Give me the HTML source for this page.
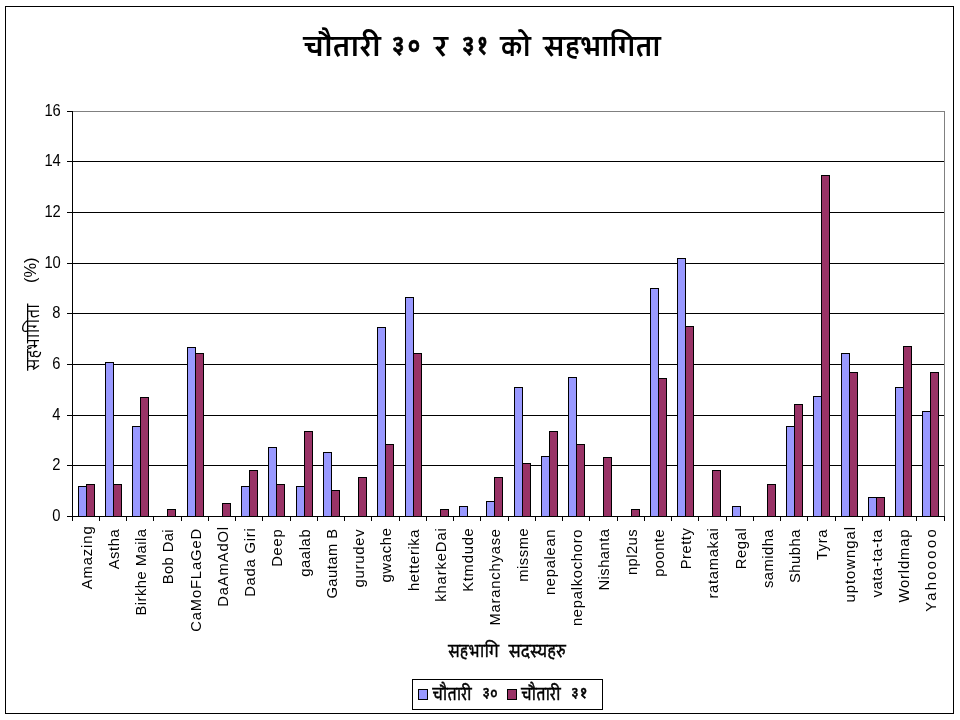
<!DOCTYPE html>
<html lang="ne"><head><meta charset="utf-8"><title>चौतारी ३० र ३१ को सहभागिता</title>
<style>html,body{margin:0;padding:0;background:#fff;overflow:hidden}svg{display:block}text{fill:#000}.l{font-family:"Liberation Sans",Arial,sans-serif;font-size:16px}.x{font-size:14.8px}.d{font-family:"Liberation Sans","Cambay","Noto Sans Devanagari","Lohit Devanagari","FreeSans",sans-serif}</style></head><body>
<svg width="960" height="720" viewBox="0 0 960 720">
<rect x="0" y="0" width="960" height="720" fill="#fff"/>
<rect x="5.5" y="6.5" width="948" height="707" fill="none" stroke="#000" stroke-width="1" shape-rendering="crispEdges"/>
<g shape-rendering="crispEdges" stroke-width="1">
<path d="M72.5 111.5 H944.5 V516.5" fill="none" stroke="#808080"/>
<line x1="72" y1="465.5" x2="944" y2="465.5" stroke="#000"/>
<line x1="72" y1="415.5" x2="944" y2="415.5" stroke="#000"/>
<line x1="72" y1="364.5" x2="944" y2="364.5" stroke="#000"/>
<line x1="72" y1="313.5" x2="944" y2="313.5" stroke="#000"/>
<line x1="72" y1="263.5" x2="944" y2="263.5" stroke="#000"/>
<line x1="72" y1="212.5" x2="944" y2="212.5" stroke="#000"/>
<line x1="72" y1="161.5" x2="944" y2="161.5" stroke="#000"/>
<rect x="78.5" y="486.5" width="8" height="30" fill="#9999ff" stroke="#000"/>
<rect x="86.5" y="484.5" width="8" height="32" fill="#993366" stroke="#000"/>
<rect x="105.5" y="362.5" width="8" height="154" fill="#9999ff" stroke="#000"/>
<rect x="113.5" y="484.5" width="8" height="32" fill="#993366" stroke="#000"/>
<rect x="132.5" y="426.5" width="8" height="90" fill="#9999ff" stroke="#000"/>
<rect x="140.5" y="397.5" width="8" height="119" fill="#993366" stroke="#000"/>
<rect x="167.5" y="509.5" width="8" height="7" fill="#993366" stroke="#000"/>
<rect x="187.5" y="347.5" width="8" height="169" fill="#9999ff" stroke="#000"/>
<rect x="195.5" y="353.5" width="8" height="163" fill="#993366" stroke="#000"/>
<rect x="222.5" y="503.5" width="8" height="13" fill="#993366" stroke="#000"/>
<rect x="241.5" y="486.5" width="8" height="30" fill="#9999ff" stroke="#000"/>
<rect x="249.5" y="470.5" width="8" height="46" fill="#993366" stroke="#000"/>
<rect x="268.5" y="447.5" width="8" height="69" fill="#9999ff" stroke="#000"/>
<rect x="276.5" y="484.5" width="8" height="32" fill="#993366" stroke="#000"/>
<rect x="296.5" y="486.5" width="8" height="30" fill="#9999ff" stroke="#000"/>
<rect x="304.5" y="431.5" width="8" height="85" fill="#993366" stroke="#000"/>
<rect x="323.5" y="452.5" width="8" height="64" fill="#9999ff" stroke="#000"/>
<rect x="331.5" y="490.5" width="8" height="26" fill="#993366" stroke="#000"/>
<rect x="358.5" y="477.5" width="8" height="39" fill="#993366" stroke="#000"/>
<rect x="377.5" y="327.5" width="8" height="189" fill="#9999ff" stroke="#000"/>
<rect x="385.5" y="444.5" width="8" height="72" fill="#993366" stroke="#000"/>
<rect x="405.5" y="297.5" width="8" height="219" fill="#9999ff" stroke="#000"/>
<rect x="413.5" y="353.5" width="8" height="163" fill="#993366" stroke="#000"/>
<rect x="440.5" y="509.5" width="8" height="7" fill="#993366" stroke="#000"/>
<rect x="459.5" y="506.5" width="8" height="10" fill="#9999ff" stroke="#000"/>
<rect x="486.5" y="501.5" width="8" height="15" fill="#9999ff" stroke="#000"/>
<rect x="494.5" y="477.5" width="8" height="39" fill="#993366" stroke="#000"/>
<rect x="514.5" y="387.5" width="8" height="129" fill="#9999ff" stroke="#000"/>
<rect x="522.5" y="463.5" width="8" height="53" fill="#993366" stroke="#000"/>
<rect x="541.5" y="456.5" width="8" height="60" fill="#9999ff" stroke="#000"/>
<rect x="549.5" y="431.5" width="8" height="85" fill="#993366" stroke="#000"/>
<rect x="568.5" y="377.5" width="8" height="139" fill="#9999ff" stroke="#000"/>
<rect x="576.5" y="444.5" width="8" height="72" fill="#993366" stroke="#000"/>
<rect x="603.5" y="457.5" width="8" height="59" fill="#993366" stroke="#000"/>
<rect x="631.5" y="509.5" width="8" height="7" fill="#993366" stroke="#000"/>
<rect x="650.5" y="288.5" width="8" height="228" fill="#9999ff" stroke="#000"/>
<rect x="658.5" y="378.5" width="8" height="138" fill="#993366" stroke="#000"/>
<rect x="677.5" y="258.5" width="8" height="258" fill="#9999ff" stroke="#000"/>
<rect x="685.5" y="326.5" width="8" height="190" fill="#993366" stroke="#000"/>
<rect x="712.5" y="470.5" width="8" height="46" fill="#993366" stroke="#000"/>
<rect x="732.5" y="506.5" width="8" height="10" fill="#9999ff" stroke="#000"/>
<rect x="767.5" y="484.5" width="8" height="32" fill="#993366" stroke="#000"/>
<rect x="786.5" y="426.5" width="8" height="90" fill="#9999ff" stroke="#000"/>
<rect x="794.5" y="404.5" width="8" height="112" fill="#993366" stroke="#000"/>
<rect x="813.5" y="396.5" width="8" height="120" fill="#9999ff" stroke="#000"/>
<rect x="821.5" y="175.5" width="8" height="341" fill="#993366" stroke="#000"/>
<rect x="841.5" y="353.5" width="8" height="163" fill="#9999ff" stroke="#000"/>
<rect x="849.5" y="372.5" width="8" height="144" fill="#993366" stroke="#000"/>
<rect x="868.5" y="497.5" width="8" height="19" fill="#9999ff" stroke="#000"/>
<rect x="876.5" y="497.5" width="8" height="19" fill="#993366" stroke="#000"/>
<rect x="895.5" y="387.5" width="8" height="129" fill="#9999ff" stroke="#000"/>
<rect x="903.5" y="346.5" width="8" height="170" fill="#993366" stroke="#000"/>
<rect x="922.5" y="411.5" width="8" height="105" fill="#9999ff" stroke="#000"/>
<rect x="930.5" y="372.5" width="8" height="144" fill="#993366" stroke="#000"/>
<line x1="72.5" y1="111" x2="72.5" y2="521" stroke="#000"/>
<line x1="67" y1="516.5" x2="945" y2="516.5" stroke="#000"/>
<line x1="67" y1="516.5" x2="72" y2="516.5" stroke="#000"/>
<line x1="67" y1="465.5" x2="72" y2="465.5" stroke="#000"/>
<line x1="67" y1="415.5" x2="72" y2="415.5" stroke="#000"/>
<line x1="67" y1="364.5" x2="72" y2="364.5" stroke="#000"/>
<line x1="67" y1="313.5" x2="72" y2="313.5" stroke="#000"/>
<line x1="67" y1="263.5" x2="72" y2="263.5" stroke="#000"/>
<line x1="67" y1="212.5" x2="72" y2="212.5" stroke="#000"/>
<line x1="67" y1="161.5" x2="72" y2="161.5" stroke="#000"/>
<line x1="67" y1="111.5" x2="72" y2="111.5" stroke="#000"/>
<line x1="72.5" y1="516" x2="72.5" y2="521" stroke="#000"/>
<line x1="99.5" y1="516" x2="99.5" y2="521" stroke="#000"/>
<line x1="126.5" y1="516" x2="126.5" y2="521" stroke="#000"/>
<line x1="153.5" y1="516" x2="153.5" y2="521" stroke="#000"/>
<line x1="181.5" y1="516" x2="181.5" y2="521" stroke="#000"/>
<line x1="208.5" y1="516" x2="208.5" y2="521" stroke="#000"/>
<line x1="235.5" y1="516" x2="235.5" y2="521" stroke="#000"/>
<line x1="262.5" y1="516" x2="262.5" y2="521" stroke="#000"/>
<line x1="290.5" y1="516" x2="290.5" y2="521" stroke="#000"/>
<line x1="317.5" y1="516" x2="317.5" y2="521" stroke="#000"/>
<line x1="344.5" y1="516" x2="344.5" y2="521" stroke="#000"/>
<line x1="371.5" y1="516" x2="371.5" y2="521" stroke="#000"/>
<line x1="399.5" y1="516" x2="399.5" y2="521" stroke="#000"/>
<line x1="426.5" y1="516" x2="426.5" y2="521" stroke="#000"/>
<line x1="453.5" y1="516" x2="453.5" y2="521" stroke="#000"/>
<line x1="480.5" y1="516" x2="480.5" y2="521" stroke="#000"/>
<line x1="508.5" y1="516" x2="508.5" y2="521" stroke="#000"/>
<line x1="535.5" y1="516" x2="535.5" y2="521" stroke="#000"/>
<line x1="562.5" y1="516" x2="562.5" y2="521" stroke="#000"/>
<line x1="589.5" y1="516" x2="589.5" y2="521" stroke="#000"/>
<line x1="617.5" y1="516" x2="617.5" y2="521" stroke="#000"/>
<line x1="644.5" y1="516" x2="644.5" y2="521" stroke="#000"/>
<line x1="671.5" y1="516" x2="671.5" y2="521" stroke="#000"/>
<line x1="698.5" y1="516" x2="698.5" y2="521" stroke="#000"/>
<line x1="726.5" y1="516" x2="726.5" y2="521" stroke="#000"/>
<line x1="753.5" y1="516" x2="753.5" y2="521" stroke="#000"/>
<line x1="780.5" y1="516" x2="780.5" y2="521" stroke="#000"/>
<line x1="807.5" y1="516" x2="807.5" y2="521" stroke="#000"/>
<line x1="835.5" y1="516" x2="835.5" y2="521" stroke="#000"/>
<line x1="862.5" y1="516" x2="862.5" y2="521" stroke="#000"/>
<line x1="889.5" y1="516" x2="889.5" y2="521" stroke="#000"/>
<line x1="916.5" y1="516" x2="916.5" y2="521" stroke="#000"/>
<line x1="944.5" y1="516" x2="944.5" y2="521" stroke="#000"/>
</g>
<text class="l" x="52.2" y="520.8" textLength="8.2" lengthAdjust="spacingAndGlyphs">0</text>
<text class="l" x="52.2" y="469.8" textLength="8.2" lengthAdjust="spacingAndGlyphs">2</text>
<text class="l" x="52.2" y="419.8" textLength="8.2" lengthAdjust="spacingAndGlyphs">4</text>
<text class="l" x="52.2" y="368.8" textLength="8.2" lengthAdjust="spacingAndGlyphs">6</text>
<text class="l" x="52.2" y="317.8" textLength="8.2" lengthAdjust="spacingAndGlyphs">8</text>
<text class="l" x="44.4" y="267.8" textLength="16.4" lengthAdjust="spacingAndGlyphs">10</text>
<text class="l" x="44.4" y="216.8" textLength="16.4" lengthAdjust="spacingAndGlyphs">12</text>
<text class="l" x="44.4" y="165.8" textLength="16.4" lengthAdjust="spacingAndGlyphs">14</text>
<text class="l" x="44.4" y="115.8" textLength="16.4" lengthAdjust="spacingAndGlyphs">16</text>
<text class="l x" transform="translate(91.72 589.35) rotate(-90)" textLength="63.0" lengthAdjust="spacing">Amazing</text>
<text class="l x" transform="translate(118.97 569.35) rotate(-90)" textLength="40.0" lengthAdjust="spacing">Astha</text>
<text class="l x" transform="translate(146.22 615.60) rotate(-90)" textLength="86.7" lengthAdjust="spacing">Birkhe Maila</text>
<text class="l x" transform="translate(173.47 584.35) rotate(-90)" textLength="55.0" lengthAdjust="spacing">Bob Dai</text>
<text class="l x" transform="translate(200.72 631.85) rotate(-90)" textLength="103.0" lengthAdjust="spacing">CaMoFLaGeD</text>
<text class="l x" transform="translate(227.97 606.85) rotate(-90)" textLength="80.0" lengthAdjust="spacing">DaAmAdOl</text>
<text class="l x" transform="translate(255.22 596.85) rotate(-90)" textLength="68.7" lengthAdjust="spacing">Dada Giri</text>
<text class="l x" transform="translate(282.48 566.85) rotate(-90)" textLength="37.5" lengthAdjust="spacing">Deep</text>
<text class="l x" transform="translate(309.73 576.85) rotate(-90)" textLength="47.5" lengthAdjust="spacing">gaalab</text>
<text class="l x" transform="translate(336.98 598.60) rotate(-90)" textLength="69.7" lengthAdjust="spacing">Gautam B</text>
<text class="l x" transform="translate(364.23 587.60) rotate(-90)" textLength="58.2" lengthAdjust="spacing">gurudev</text>
<text class="l x" transform="translate(391.48 582.60) rotate(-90)" textLength="54.5" lengthAdjust="spacing">gwache</text>
<text class="l x" transform="translate(418.73 591.10) rotate(-90)" textLength="61.7" lengthAdjust="spacing">hetterika</text>
<text class="l x" transform="translate(445.98 601.85) rotate(-90)" textLength="73.7" lengthAdjust="spacing">kharkeDai</text>
<text class="l x" transform="translate(473.23 591.85) rotate(-90)" textLength="63.7" lengthAdjust="spacing">Ktmdude</text>
<text class="l x" transform="translate(500.48 625.60) rotate(-90)" textLength="96.7" lengthAdjust="spacing">Maranchyase</text>
<text class="l x" transform="translate(527.73 581.85) rotate(-90)" textLength="53.7" lengthAdjust="spacing">missme</text>
<text class="l x" transform="translate(554.98 595.10) rotate(-90)" textLength="65.7" lengthAdjust="spacing">nepalean</text>
<text class="l x" transform="translate(582.23 626.10) rotate(-90)" textLength="96.7" lengthAdjust="spacing">nepalkochoro</text>
<text class="l x" transform="translate(609.48 590.60) rotate(-90)" textLength="61.7" lengthAdjust="spacing">Nishanta</text>
<text class="l x" transform="translate(636.73 575.10) rotate(-90)" textLength="45.7" lengthAdjust="spacing">npl2us</text>
<text class="l x" transform="translate(663.98 576.85) rotate(-90)" textLength="47.5" lengthAdjust="spacing">poonte</text>
<text class="l x" transform="translate(691.23 569.35) rotate(-90)" textLength="41.2" lengthAdjust="spacing">Pretty</text>
<text class="l x" transform="translate(718.48 598.60) rotate(-90)" textLength="70.5" lengthAdjust="spacing">ratamakai</text>
<text class="l x" transform="translate(745.73 569.35) rotate(-90)" textLength="41.2" lengthAdjust="spacing">Regal</text>
<text class="l x" transform="translate(772.98 588.10) rotate(-90)" textLength="58.7" lengthAdjust="spacing">samidha</text>
<text class="l x" transform="translate(800.23 583.10) rotate(-90)" textLength="53.7" lengthAdjust="spacing">Shubha</text>
<text class="l x" transform="translate(827.48 560.10) rotate(-90)" textLength="30.7" lengthAdjust="spacing">Tyra</text>
<text class="l x" transform="translate(854.73 602.60) rotate(-90)" textLength="75.7" lengthAdjust="spacing">uptowngal</text>
<text class="l x" transform="translate(881.98 597.60) rotate(-90)" textLength="68.2" lengthAdjust="spacing">vata-ta-ta</text>
<text class="l x" transform="translate(909.23 602.60) rotate(-90)" textLength="73.2" lengthAdjust="spacing">Worldmap</text>
<text class="l x" transform="translate(936.48 611.85) rotate(-90)" textLength="82.5" lengthAdjust="spacing">Yahooooo</text>
<text class="d"><tspan x="303.8" y="56" font-size="33" font-weight="bold" textLength="76.8" lengthAdjust="spacingAndGlyphs">चौतारी</tspan> <tspan x="392.4" y="54.2" font-size="28.5" font-weight="bold" textLength="11.4" lengthAdjust="spacingAndGlyphs" stroke="#000" stroke-width="0.7">३</tspan><tspan x="408.3" y="54.2" font-size="28.5" font-weight="bold" textLength="11.4" lengthAdjust="spacingAndGlyphs" stroke="#000" stroke-width="0.7">०</tspan> <tspan x="434.2" y="56" font-size="33" font-weight="bold" textLength="13.4" lengthAdjust="spacingAndGlyphs">र</tspan> <tspan x="462.4" y="54.2" font-size="28.5" font-weight="bold" textLength="11.4" lengthAdjust="spacingAndGlyphs" stroke="#000" stroke-width="0.7">३</tspan><tspan x="477.8" y="54.2" font-size="28.5" font-weight="bold" textLength="9" lengthAdjust="spacingAndGlyphs" stroke="#000" stroke-width="0.7">१</tspan> <tspan x="500.5" y="56" font-size="33" font-weight="bold" textLength="30.1" lengthAdjust="spacingAndGlyphs">को</tspan> <tspan x="543.4" y="56" font-size="33" font-weight="bold" textLength="117.2" lengthAdjust="spacingAndGlyphs">सहभागिता</tspan></text>
<text class="d"><tspan x="448.5" y="657" font-size="20" font-weight="normal" textLength="50.3" lengthAdjust="spacingAndGlyphs" stroke="#000" stroke-width="0.5">सहभागि</tspan> <tspan x="509" y="657" font-size="20" font-weight="normal" textLength="56.5" lengthAdjust="spacingAndGlyphs" stroke="#000" stroke-width="0.5">सदस्यहरु</tspan></text>
<text class="d" transform="translate(38.6 0) rotate(-90)"><tspan x="-370.2" y="0" font-size="20" font-weight="normal" textLength="66.2" lengthAdjust="spacingAndGlyphs">सहभागिता</tspan> <tspan x="-283" y="-2.5" font-size="16" textLength="25.5" lengthAdjust="spacingAndGlyphs">(%)</tspan></text>
<rect x="412.5" y="679.5" width="190" height="30" fill="#fff" stroke="#000" shape-rendering="crispEdges"/>
<rect x="418.5" y="689.5" width="9" height="10" fill="#9999ff" stroke="#000" shape-rendering="crispEdges"/>
<rect x="507.5" y="689.5" width="9" height="10" fill="#993366" stroke="#000" shape-rendering="crispEdges"/>
<text class="d"><tspan x="432.8" y="699.5" font-size="20" font-weight="normal" textLength="38.7" lengthAdjust="spacingAndGlyphs" stroke="#000" stroke-width="0.55">चौतारी</tspan> <tspan x="482.8" y="698.4" font-size="17.5" font-weight="bold" textLength="6.8" lengthAdjust="spacingAndGlyphs" stroke="#000" stroke-width="0.3">३</tspan><tspan x="490.4" y="698.4" font-size="17.5" font-weight="bold" textLength="6.8" lengthAdjust="spacingAndGlyphs" stroke="#000" stroke-width="0.3">०</tspan></text>
<text class="d"><tspan x="521.4" y="699.5" font-size="20" font-weight="normal" textLength="39.1" lengthAdjust="spacingAndGlyphs" stroke="#000" stroke-width="0.55">चौतारी</tspan> <tspan x="571.5" y="698.4" font-size="17.5" font-weight="bold" textLength="6.8" lengthAdjust="spacingAndGlyphs" stroke="#000" stroke-width="0.3">३</tspan><tspan x="580.2" y="698.4" font-size="17.5" font-weight="bold" textLength="6.4" lengthAdjust="spacingAndGlyphs" stroke="#000" stroke-width="0.3">१</tspan></text>
</svg></body></html>
